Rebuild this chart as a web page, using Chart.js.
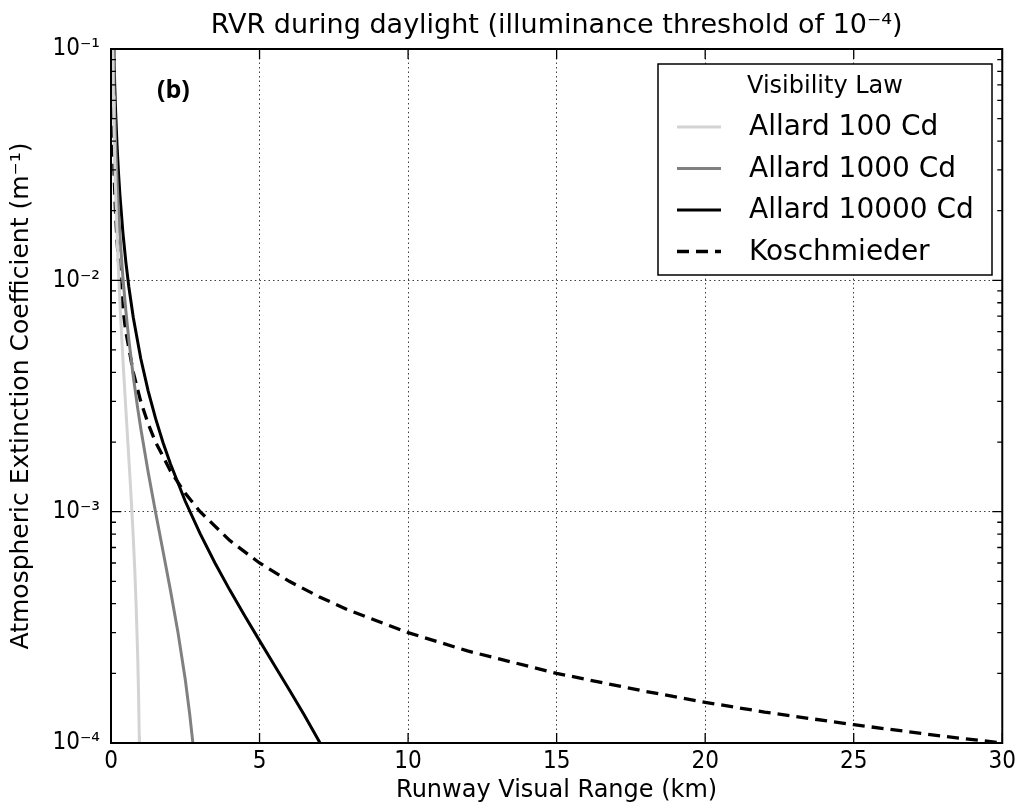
<html>
<head>
<script src="https://cdn.jsdelivr.net/npm/chart.js@4.4.0/dist/chart.umd.min.js"></script>
<style>
  body { margin: 0; background: #fff; }
  #wrap { width: 1020px; height: 806px; }
</style>
</head>
<body>
<div id="wrap"><canvas id="chart"></canvas></div>
<script>
// values (x in km, y in m^-1)
var allard100X = [0.03, 0.05, 0.06, 0.08, 0.1, 0.125, 0.15, 0.2, 0.25, 0.3, 0.35, 0.4, 0.45, 0.5, 0.55, 0.6, 0.65, 0.7, 0.75, 0.8, 0.85, 0.9, 0.93, 0.95, 0.96];
var allard100Y = [0.234, 0.12, 0.094, 0.063, 0.046, 0.0333, 0.0253, 0.0161, 0.0111, 0.0080, 0.0060, 0.00458, 0.00355, 0.00277, 0.00217, 0.0017, 0.00133, 0.00102, 0.00077, 0.00056, 0.00038, 0.000234, 0.000156, 0.000108, 0.000085];

var allard1000X = [0.05, 0.08, 0.1, 0.125, 0.15, 0.2, 0.25, 0.3, 0.4, 0.5, 0.6, 0.75, 0.9, 1.0, 1.25, 1.5, 1.75, 2.0, 2.25, 2.5, 2.65, 2.75, 2.8];
var allard1000Y = [0.166, 0.092, 0.069, 0.0517, 0.0406, 0.0276, 0.0203, 0.0157, 0.0103, 0.00738, 0.00554, 0.00384, 0.00279, 0.0023, 0.001485, 0.000994, 0.000676, 0.000458, 0.000303, 0.000188, 0.000133, 0.0001016, 0.000087];

var allard10000X = [0.08, 0.1, 0.125, 0.15, 0.2, 0.25, 0.3, 0.4, 0.5, 0.6, 0.75, 1.0, 1.25, 1.5, 1.75, 2.0, 2.5, 3.0, 3.5, 4.0, 4.5, 5.0, 5.5, 6.0, 6.5, 7.0, 7.1];
var allard10000Y = [0.1207, 0.0921, 0.0701, 0.056, 0.0391, 0.0295, 0.0234, 0.0161, 0.01198, 0.00938, 0.00691, 0.004605, 0.00333, 0.00253, 0.00199, 0.00161, 0.001109, 0.000803, 0.0006, 0.000458, 0.000355, 0.000277, 0.000217, 0.00017, 0.0001326, 0.0001019, 0.0000965];

var koschX = [0.025, 0.03, 0.04, 0.05, 0.075, 0.1, 0.15, 0.2, 0.3, 0.4, 0.5, 0.75, 1, 1.25, 1.5, 2, 2.5, 3, 4, 5, 6, 7, 8, 10, 12, 15, 18, 20, 22, 25, 28, 30];
var koschY = [0.12, 0.1, 0.075, 0.06, 0.04, 0.03, 0.02, 0.015, 0.01, 0.0075, 0.006, 0.004, 0.003, 0.0024, 0.002, 0.0015, 0.0012, 0.001, 0.00075, 0.0006, 0.0005, 0.000429, 0.000375, 0.0003, 0.00025, 0.0002, 0.000167, 0.00015, 0.000136, 0.00012, 0.000107, 0.0001];

var seriesLabels = ['Allard 100 Cd', 'Allard 1000 Cd', 'Allard 10000 Cd', 'Koschmieder'];
var xTickValues = [0, 5, 10, 15, 20, 25, 30];
var yTickValues = [1e-4, 1e-3, 1e-2, 1e-1];
var yTickLabels = ['10\u207B\u2074', '10\u207B\u00B3', '10\u207B\u00B2', '10\u207B\u00B9'];

function pts(xs, ys) {
	return xs.map(function(x, i) { return {x: x, y: ys[i]}; });
}

var condensed = "'DejaVu Sans Condensed', 'DejaVu Sans'";
var sans = "'DejaVu Sans'";

// inward ticks, frame, panel letter and legend box (matplotlib look)
var decor = {
	id: 'decor',
	afterDatasetsDraw: function(chart) {
		var ctx = chart.ctx, a = chart.chartArea;
		var xs = chart.scales.x, ys = chart.scales.y;
		ctx.save();
		ctx.strokeStyle = '#000';
		ctx.lineWidth = 1.3;
		ctx.beginPath();
		xTickValues.forEach(function(v) {
			var px = xs.getPixelForValue(v);
			ctx.moveTo(px, a.bottom); ctx.lineTo(px, a.bottom - 10);
			ctx.moveTo(px, a.top); ctx.lineTo(px, a.top + 10);
		});
		yTickValues.forEach(function(v) {
			var py = ys.getPixelForValue(v);
			ctx.moveTo(a.left, py); ctx.lineTo(a.left + 10, py);
			ctx.moveTo(a.right, py); ctx.lineTo(a.right - 10, py);
		});
		for (var d = -4; d < -1; d++) {
			for (var m = 2; m <= 9; m++) {
				var py = ys.getPixelForValue(m * Math.pow(10, d));
				ctx.moveTo(a.left, py); ctx.lineTo(a.left + 5, py);
				ctx.moveTo(a.right, py); ctx.lineTo(a.right - 5, py);
			}
		}
		ctx.stroke();
		ctx.lineWidth = 2;
		ctx.strokeRect(a.left, a.top, a.right - a.left, a.bottom - a.top);

		ctx.fillStyle = '#000';
		ctx.font = "bold 25px 'Open Sans'";
		ctx.textAlign = 'left';
		ctx.textBaseline = 'middle';
		ctx.fillText('(b)', 157, 91);

		// legend
		var lx = 658, ly = 64, lw = 334, lh = 211;
		ctx.fillStyle = '#fff';
		ctx.fillRect(lx, ly, lw, lh);
		ctx.lineWidth = 1.5;
		ctx.strokeRect(lx, ly, lw, lh);
		ctx.fillStyle = '#000';
		ctx.textAlign = 'center';
		ctx.font = '24px ' + sans;
		ctx.fillText('Visibility Law', lx + lw / 2, 87);
		ctx.textAlign = 'left';
		ctx.font = '28px ' + sans;
		chart.data.datasets.forEach(function(ds, i) {
			var yy = 127 + i * 41.5;
			ctx.strokeStyle = ds.borderColor;
			ctx.lineWidth = ds.borderWidth;
			ctx.setLineDash(ds.borderDash || []);
			ctx.beginPath();
			ctx.moveTo(677, yy); ctx.lineTo(721, yy);
			ctx.stroke();
			ctx.setLineDash([]);
			ctx.fillText(ds.label, 749, yy + 1);
		});
		ctx.restore();
	}
};

new Chart(document.getElementById('chart'), {
	type: 'line',
	data: {
		datasets: [{
				label: seriesLabels[0],
				data: pts(allard100X, allard100Y),
				borderColor: '#d3d3d3',
				borderWidth: 3
			},
			{
				label: seriesLabels[1],
				data: pts(allard1000X, allard1000Y),
				borderColor: '#808080',
				borderWidth: 3
			},
			{
				label: seriesLabels[2],
				data: pts(allard10000X, allard10000Y),
				borderColor: '#000000',
				borderWidth: 3
			},
			{
				label: seriesLabels[3],
				data: pts(koschX, koschY),
				borderColor: '#000000',
				borderWidth: 3.3,
				borderDash: [12, 7]
			}
		]
	},
	options: {
		responsive: true,
		maintainAspectRatio: false,
		animation: false,
		layout: { padding: { left: 0, right: 15, top: 0, bottom: 0 } },
		elements: { point: { radius: 0 }, line: { tension: 0 } },
		plugins: {
			legend: { display: false },
			tooltip: { enabled: false },
			title: {
				display: true,
				fullSize: false,
				text: 'RVR during daylight (illuminance threshold of 10\u207B\u2074)',
				color: '#000',
				font: { family: sans, size: 27, weight: 'normal' },
				padding: { top: 10, bottom: 6.6 }
			}
		},
		scales: {
			x: {
				type: 'linear',
				min: 0,
				max: 30,
				afterFit: function(s) { s.height = 63; },
				afterBuildTicks: function(s) { s.ticks = xTickValues.map(function(v) { return {value: v}; }); },
				ticks: { color: '#000', padding: 4, maxRotation: 0, font: { family: condensed, size: 24 } },
				grid: { color: 'rgba(0,0,0,0.75)', lineWidth: 1, drawTicks: false },
				border: { display: false, dash: [1.5, 3] },
				title: {
					display: true,
					text: 'Runway Visual Range (km)',
					color: '#000',
					font: { family: sans, size: 24 },
					padding: { top: 0, bottom: 1 }
				}
			},
			y: {
				type: 'logarithmic',
				min: 1e-4,
				max: 1e-1,
				afterFit: function(s) { s.width = 111; },
				afterBuildTicks: function(s) { s.ticks = yTickValues.map(function(v) { return {value: v}; }); },
				ticks: {
					color: '#000',
					padding: 11,
					font: { family: condensed, size: 24 },
					callback: function(v, i) { return yTickLabels[i]; }
				},
				grid: { color: 'rgba(0,0,0,0.75)', lineWidth: 1, drawTicks: false },
				border: { display: false, dash: [1.5, 3] },
				title: {
					display: true,
					text: 'Atmospheric Extinction Coefficient (m\u207B\u00B9)',
					color: '#000',
					font: { family: sans, size: 25 },
					padding: { top: 6, bottom: 0 }
				}
			}
		}
	},
	plugins: [decor]
});
</script>
</body>
</html>
